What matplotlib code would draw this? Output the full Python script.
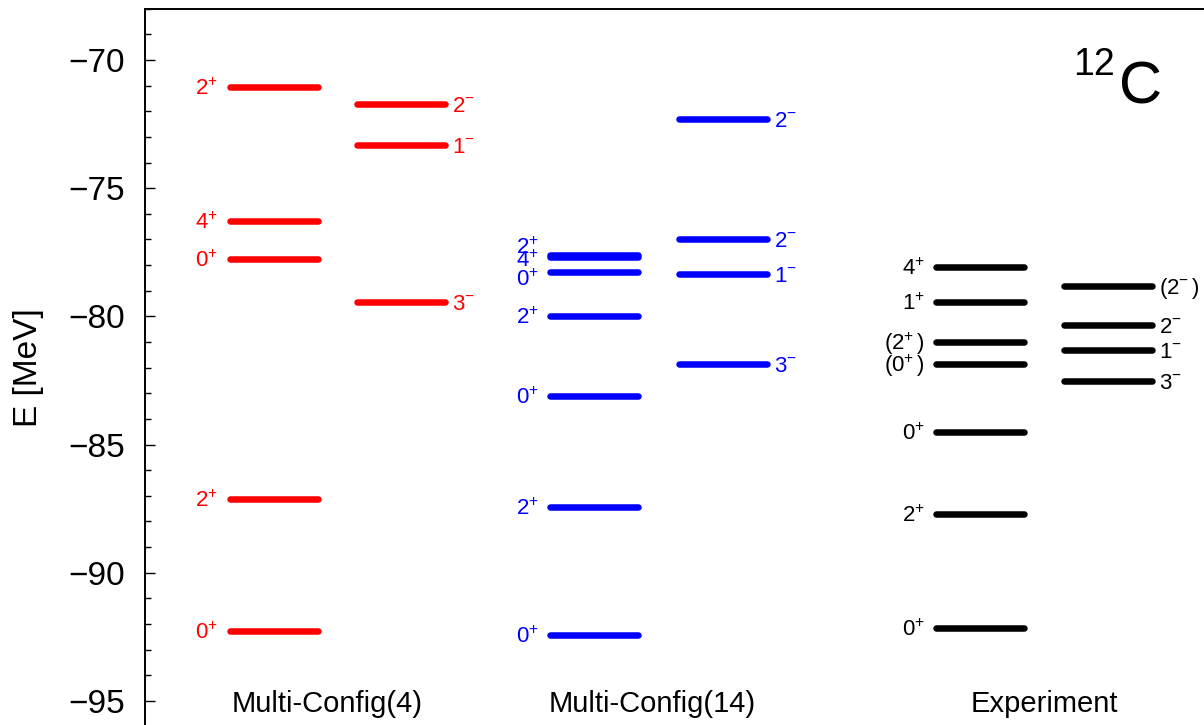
import matplotlib
matplotlib.use('Agg')
import matplotlib.pyplot as plt
from matplotlib.ticker import MultipleLocator
from matplotlib.transforms import offset_copy

plt.rcParams['font.family'] = ['Liberation Sans', 'DejaVu Sans']
plt.rcParams['mathtext.fontset'] = 'custom'
plt.rcParams['mathtext.rm'] = 'Liberation Sans'
plt.rcParams['mathtext.it'] = 'Liberation Sans:italic'
plt.rcParams['mathtext.bf'] = 'Liberation Sans:bold'

# ---------------- data ----------------
mc4_pos_E = [-92.27, -87.12, -77.76, -76.28, -71.05]
mc4_pos_J = ['0+', '2+', '0+', '4+', '2+']
mc4_neg_E = [-79.44, -73.32, -71.72]
mc4_neg_J = ['3-', '1-', '2-']

mc14_pos_E = [-92.43, -87.43, -83.10, -79.98, -78.27, -77.70, -77.59]
mc14_pos_J = ['0+', '2+', '0+', '2+', '0+', '4+', '2+']
mc14_pos_label_shift = [0, 0, 0, 0, -0.23, -0.06, 0.35]
mc14_neg_E = [-81.86, -78.35, -76.98, -72.30]
mc14_neg_J = ['3-', '1-', '2-', '2-']

exp_pos_E = [-92.16, -87.72, -84.51, -81.86, -81.00, -79.45, -78.08]
exp_pos_J = ['0+', '2+', '0+', '(0+)', '(2+)', '1+', '4+']
exp_neg_E = [-82.52, -81.32, -80.33, -78.81]
exp_neg_J = ['3-', '1-', '2-', '(2-)']

column_names = ['Multi-Config(4)', 'Multi-Config(14)', 'Experiment']
nucleus = ('12', 'C')

# ---------------- layout ----------------
W, H = 1204, 725
fig = plt.figure(figsize=(W / 100, H / 100), dpi=100)
ax_left_px, ax_width_px = 144.5, 1100
ax = fig.add_axes([ax_left_px / W, -0.0022, ax_width_px / W, 0.9902])
ax.set_xlim(0, ax_width_px)
ax.set_ylim(-96, -68)

half = 44.0
lw = 4.7
label_fs = 16
gap_left = 55.5
gap_right = 50.5

lab_tr = offset_copy(ax.transData, fig=fig, y=-0.358 * label_fs, units='points')


def fmt(j):
    paren = j.startswith('(')
    core = j.strip('()')
    num, sign = core[:-1], core[-1]
    s = num + '$^{' + sign + '}$'
    if paren:
        s = '(' + s + r'$\,$)'
    return s


def draw_column(xc, energies, spins, color, side, shifts=None):
    xs0 = [xc - half] * len(energies)
    xs1 = [xc + half] * len(energies)
    ax.hlines(energies, xs0, xs1, colors=color, linewidth=lw, capstyle='round')
    if shifts is None:
        shifts = [0] * len(energies)
    for e, j, s in zip(energies, spins, shifts):
        if side == 'left':
            ax.text(xc - gap_left, e + s, fmt(j), color=color, fontsize=label_fs,
                    ha='right', va='baseline', transform=lab_tr)
        else:
            ax.text(xc + gap_right, e + s, fmt(j), color=color, fontsize=label_fs,
                    ha='left', va='baseline', transform=lab_tr)


red, blue, black = '#ff0000', '#0000ff', '#000000'
draw_column(129, mc4_pos_E, mc4_pos_J, red, 'left')
draw_column(257, mc4_neg_E, mc4_neg_J, red, 'right')
draw_column(450, mc14_pos_E, mc14_pos_J, blue, 'left', mc14_pos_label_shift)
draw_column(579, mc14_neg_E, mc14_neg_J, blue, 'right')
draw_column(836, exp_pos_E, exp_pos_J, black, 'left')
draw_column(964, exp_neg_E, exp_neg_J, black, 'right')

for xc, name in zip([182.5, 508, 900], column_names):
    ax.text(xc, -95.43, name, fontsize=21, ha='center', va='baseline')

# axes styling
for sp in ax.spines.values():
    sp.set_linewidth(1.4)
ax.spines['right'].set_visible(False)
ax.spines['bottom'].set_visible(False)
ax.set_xticks([])
ax.yaxis.set_major_locator(MultipleLocator(5))
ax.yaxis.set_minor_locator(MultipleLocator(1))
ax.tick_params(axis='y', which='major', direction='in', length=7, width=1,
               labelsize=24, pad=14)
ax.tick_params(axis='y', which='minor', direction='in', length=4, width=1)

fig.text(29 / W, 1 - 368 / H, 'E [MeV]', rotation=90, fontsize=24,
         ha='center', va='center')

fig.text(1115 / W, 1 - 75 / H, nucleus[0], fontsize=27, ha='right', va='baseline')
fig.text(1119 / W, 1 - 103 / H, nucleus[1], fontsize=43, ha='left', va='baseline')

fig.savefig('out.png', dpi=100)
